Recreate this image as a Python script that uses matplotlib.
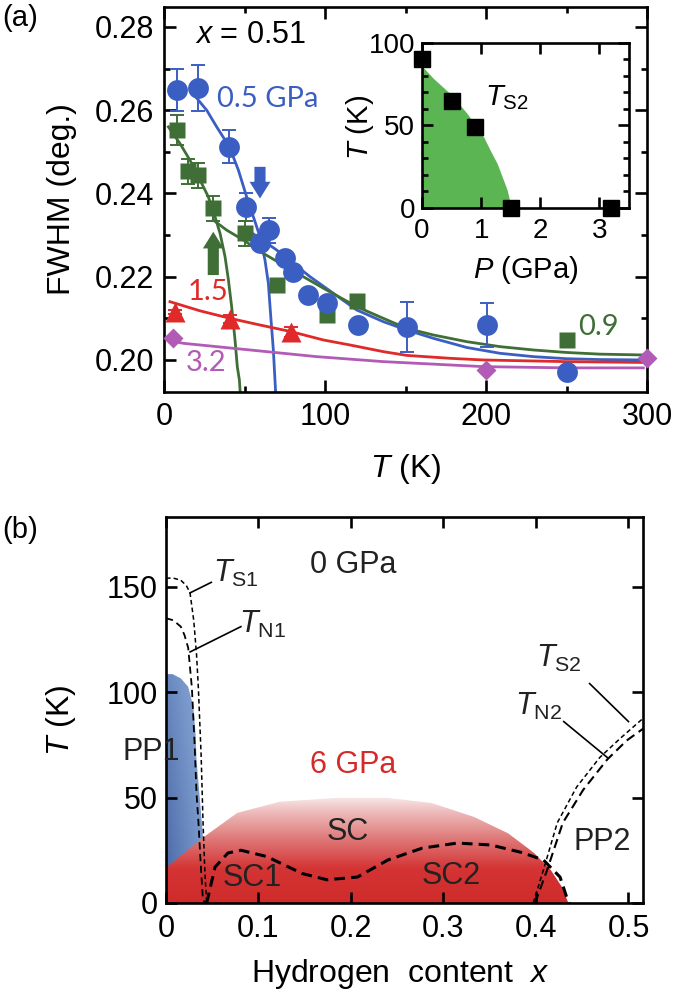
import matplotlib
matplotlib.use('Agg')
import matplotlib.pyplot as plt
import numpy as np
from matplotlib.patches import Polygon
from matplotlib.colors import LinearSegmentedColormap

plt.rcParams['font.family'] = ['Liberation Sans', 'DejaVu Sans']
plt.rcParams['mathtext.fontset'] = 'custom'
plt.rcParams['mathtext.rm'] = 'Liberation Sans'
plt.rcParams['mathtext.it'] = 'Liberation Sans:italic'
plt.rcParams['axes.linewidth'] = 1.9

# ---- panel (a): FWHM vs T, x = 0.51 ----
blue_T = [7.9, 21.3, 40.5, 50.7, 59.6, 65.2, 75.2, 80.3, 89.6, 101, 120.7, 150.7, 200.4, 250]
blue_W = [0.2649, 0.2653, 0.2512, 0.2367, 0.2280, 0.2312, 0.2245, 0.2212, 0.2156, 0.2136,
          0.2084, 0.2080, 0.2084, 0.1972]
blue_err = [0.005, 0.0056, 0.004, 0.0034, 0.0, 0.003, 0.001, 0.001, 0.001, 0.001, 0.001,
            0.006, 0.0052, 0.0]

green_T = [7.9, 15, 21.3, 30.6, 50.2, 70, 101, 119.6, 250]
green_W = [0.2552, 0.2453, 0.2444, 0.2364, 0.2304, 0.2180, 0.2108, 0.2141, 0.2048]
green_err = [0.0036, 0.003, 0.003, 0.003, 0.003, 0.0, 0.0, 0.0, 0.0]

red_T = [6.8, 41, 79]
red_W = [0.2115, 0.2098, 0.2068]
red_err = [0.0005, 0.001, 0.0012]

purple_T = [5.8, 200, 300]
purple_W = [0.2053, 0.1977, 0.2004]

# fitted curves
blue_low_T = [20.3, 26.5, 32.7, 40.6, 46.2, 51.3, 55.5, 59.6, 62.7, 64.8, 66.3, 67.9, 68.9, 69.3]
blue_low_W = [0.2629, 0.2600, 0.2560, 0.2512, 0.2456, 0.2392, 0.2344, 0.2296, 0.2240, 0.2184,
              0.2104, 0.2024, 0.1952, 0.1923]
blue_high_T = [50.3, 59.6, 70.0, 80.3, 90.7, 105.2, 119.7, 136.2, 150.7, 167.3, 188.0, 208.7,
               229.4, 250.1, 270.8, 297.7]
blue_high_W = [0.2316, 0.2292, 0.2264, 0.2232, 0.2200, 0.2160, 0.2120, 0.2092, 0.2072, 0.2052,
               0.2030, 0.2016, 0.2008, 0.2003, 0.2001, 0.2000]
green_low_T = [2.7, 9.9, 16.1, 22.4, 27.5, 31.7, 34.8, 37.9, 40.0, 42.0, 44.1, 45.5, 46.8, 47.3]
green_low_W = [0.2560, 0.2520, 0.2480, 0.2432, 0.2392, 0.2344, 0.2304, 0.2248, 0.2192, 0.2128,
               0.2048, 0.1984, 0.1952, 0.1923]
green_high_T = [30.6, 38.9, 49.3, 61.7, 74.1, 86.5, 101.0, 119.7, 136.2, 150.7, 167.3, 188.0,
                208.7, 229.4, 250.1, 270.8, 297.7]
green_high_W = [0.2336, 0.2312, 0.2288, 0.2256, 0.2228, 0.2200, 0.2168, 0.2128, 0.2100, 0.2076,
                0.2060, 0.2044, 0.2032, 0.2024, 0.2018, 0.2014, 0.2012]
red_fit_T = [3.7, 22.4, 41.0, 59.6, 79.0, 99.0, 115.5, 136.2, 150.7, 177.6, 198.3, 250.1, 297.7]
red_fit_W = [0.2140, 0.2118, 0.2100, 0.2084, 0.2068, 0.2048, 0.2036, 0.2020, 0.2011, 0.2004,
             0.2000, 0.1996, 0.1994]
purple_fit_T = [5.8, 12.0, 53.4, 94.8, 136.2, 198.3, 250.0, 297.7]
purple_fit_W = [0.2045, 0.2040, 0.2024, 0.2008, 0.1996, 0.1984, 0.1981, 0.1981]

# arrows marking the transitions
blue_arrow = (59.6, 0.2464, 0.2388)   # T, tail, tip
green_arrow = (30.6, 0.2204, 0.2308)

# inset: T_S2 vs pressure
ins_P = [0, 0.5, 0.9, 1.5, 3.2]
ins_T = [90, 65, 49, 0, 0]
ins_fill_P = [0, 0.19, 0.47, 0.76, 1.04, 1.15, 1.27, 1.44, 1.51]
ins_fill_T = [86, 78.6, 69.5, 57.4, 43.2, 35.2, 27, 10.9, 0]

# ---- panel (b): phase diagram ----
pp1_x = [0, 0, 0.007, 0.016, 0.024, 0.0296, 0.032, 0.033, 0.0386, 0.042, 0.043]
pp1_T = [0, 108.5, 108.5, 106.5, 102.5, 93, 80, 68, 39, 20, 0]
sc_x = [0, 0, 0.040, 0.077, 0.123, 0.184, 0.240, 0.287, 0.333, 0.370, 0.398, 0.416, 0.428, 0.435]
sc_T = [0, 16.6, 31, 42.7, 48, 49.8, 49.8, 47.4, 40.8, 33, 23.7, 15.6, 7.6, 0]
sc12_x = [0.044, 0.053, 0.067, 0.081, 0.109, 0.147, 0.174, 0.207, 0.240, 0.277, 0.315, 0.351,
          0.384, 0.408, 0.426, 0.433, 0.436]
sc12_T = [0, 17, 23.7, 25, 22, 14, 11, 12.3, 20.4, 26, 28.4, 27.5, 24, 20.4, 12.3, 3, 0]
ts1_x = [0, 0.008, 0.016, 0.022, 0.026, 0.030, 0.033, 0.035, 0.038, 0.040, 0.042, 0.044]
ts1_T = [154, 154, 153, 150.5, 147, 134, 118, 102, 70, 39, 15, 0]
tn1_x = [0, 0.008, 0.016, 0.020, 0.024, 0.028, 0.031, 0.033, 0.035, 0.038, 0.040, 0.043]
tn1_T = [135, 134, 131, 127, 121, 102, 75, 52, 39, 15, 1.4, 0]
ts2_x = [0.397, 0.408, 0.423, 0.444, 0.469, 0.491, 0.517]
ts2_T = [0, 15.6, 38, 55, 69, 78, 88]
tn2_x = [0.399, 0.412, 0.429, 0.451, 0.477, 0.498, 0.517]
tn2_T = [0, 15.6, 38, 53.6, 68, 77, 83]
leaders = {
    'TS1': ([0.026, 0.049], [147, 152]),
    'TN1': ([0.026, 0.081], [119, 131]),
    'TS2': ([0.458, 0.50], [104, 86]),
    'TN2': ([0.430, 0.477], [86, 69]),
}

BLUE = '#3b5ec2'
GREEN = '#3f6f36'
RED = '#e02a2a'
PURPLE = '#b25bb6'

fig = plt.figure(figsize=(6.75, 9.97), dpi=100)

# ================= (a) =================
ax = fig.add_axes([0.2430, 0.6068, 0.7156, 0.3862])
ax.plot(blue_low_T, blue_low_W, color=BLUE, lw=2, zorder=2)
ax.plot(blue_high_T, blue_high_W, color=BLUE, lw=2, zorder=2)
ax.plot(green_low_T, green_low_W, color=GREEN, lw=2, zorder=2)
ax.plot(green_high_T, green_high_W, color=GREEN, lw=2, zorder=2)
ax.plot(red_fit_T, red_fit_W, color=RED, lw=2, zorder=2)
ax.plot(purple_fit_T, purple_fit_W, color=PURPLE, lw=2, zorder=2)

ax.errorbar(blue_T, blue_W, yerr=blue_err, fmt='none', ecolor=BLUE, elinewidth=1.4,
            capsize=5, capthick=1.4, zorder=2.5)
ax.errorbar(green_T, green_W, yerr=green_err, fmt='none', ecolor=GREEN, elinewidth=1.4,
            capsize=5, capthick=1.4, zorder=2.5)
ax.errorbar(red_T, red_W, yerr=red_err, fmt='none', ecolor=RED, elinewidth=1.4,
            capsize=5, capthick=1.4, zorder=2.5)

ax.plot(green_T, green_W, 's', color=GREEN, ms=11, mec='none', zorder=3)
ax.plot(blue_T, blue_W, 'o', color=BLUE, ms=15, mec='none', zorder=3.1)
ax.plot(red_T, red_W, '^', color=RED, ms=15, mec='none', zorder=3, clip_on=False)
ax.plot(purple_T, purple_W, 'D', color=PURPLE, ms=10, mec='none', zorder=3.2, clip_on=False)

for (t, tail, tip), c in [(blue_arrow, BLUE), (green_arrow, GREEN)]:
    ax.annotate('', xy=(t, tip), xytext=(t, tail),
                arrowprops=dict(arrowstyle='simple,head_length=0.6,head_width=0.75,tail_width=0.4',
                                fc=c, ec='none', mutation_scale=20, shrinkA=0, shrinkB=0),
                zorder=4)

ax.text(54, 0.2781, '$x$ = 0.51', fontsize=22, ha='center', va='center')
ax.text(33, 0.2627, '0.5 GPa', fontsize=21, color=BLUE, ha='left', va='center', family='Lato')
ax.text(27.3, 0.2163, '1.5', fontsize=21, color=RED, ha='center', va='center', family='Lato')
ax.text(26, 0.1993, '3.2', fontsize=21, color=PURPLE, ha='center', va='center', family='Lato')
ax.text(270, 0.2079, '0.9', fontsize=21, color=GREEN, ha='center', va='center', family='Lato')

ax.set_xlim(0, 300)
ax.set_ylim(0.1923, 0.2848)
ax.set_xticks([0, 100, 200, 300])
ax.set_xticks([50, 150, 250], minor=True)
ax.set_yticks([0.20, 0.22, 0.24, 0.26, 0.28])
ax.set_yticks([0.21, 0.23, 0.25, 0.27], minor=True)
ax.set_yticklabels(['0.20', '0.22', '0.24', '0.26', '0.28'])
ax.tick_params(which='both', direction='in', top=True, right=True, width=1.9)
ax.tick_params(which='major', length=8.5, labelsize=22, pad=7)
ax.tick_params(which='minor', length=4)
ax.set_xlabel('$T$ (K)', fontsize=23)
ax.set_ylabel('FWHM (deg.)', fontsize=23)
ax.xaxis.set_label_coords(0.5, -0.155)
ax.yaxis.set_label_coords(-0.18, 0.5)
fig.text(20 / 675, 1 - 18 / 997, '(a)', fontsize=21, ha='center', va='center')

# inset
ins = fig.add_axes([0.6252, 0.7914, 0.3067, 0.1655])
ins.fill_between(ins_fill_P, ins_fill_T, 0, color='#5ab552', lw=0, zorder=1)
ins.plot(ins_P, ins_T, 's', color='black', ms=11, zorder=3, clip_on=False)
ins.text(1.07, 62, r'$T_{\mathrm{S2}}$', fontsize=21, ha='left', va='baseline')
ins.set_xlim(0, 3.5)
ins.set_ylim(0, 100)
ins.set_xticks([0, 1, 2, 3])
ins.set_yticks([0, 50, 100])
ins.set_yticks(np.arange(10, 100, 10), minor=True)
ins.tick_params(which='both', direction='in', top=True, right=True, width=1.9)
ins.tick_params(which='major', length=8, labelsize=20, pad=5)
ins.tick_params(which='minor', length=4)
ins.tick_params(axis='x', which='major', pad=7)
ins.set_xlabel('$P$ (GPa)', fontsize=21)
ins.set_ylabel('$T$ (K)', fontsize=21)
ins.xaxis.set_label_coords(0.5, -0.28)
ins.yaxis.set_label_coords(-0.22, 0.49)

# ================= (b) =================
bx = fig.add_axes([0.2459, 0.0943, 0.7067, 0.3872])


def gradient_patch(axis, px, py, field, extent, cmap, z):
    patch = Polygon(np.column_stack([px, py]), closed=True, fc='none', ec='none')
    axis.add_patch(patch)
    im = axis.imshow(field, extent=extent, origin='lower', aspect='auto', cmap=cmap,
                     vmin=0, vmax=1, zorder=z, interpolation='bilinear')
    im.set_clip_path(patch)


blue_cmap = LinearSegmentedColormap.from_list('pp1', ['#4a66a4', '#6f8fc4', '#93aedb'])
gx, gy = np.meshgrid(np.linspace(0, 1, 60), np.linspace(0, 1, 200))
gradient_patch(bx, pp1_x, pp1_T, 0.6 * gx + 0.4 * gy, [0, 0.044, 0, 110], blue_cmap, 1)

red_cmap = LinearSegmentedColormap.from_list(
    'sc', [(0, '#cf2b2b'), (0.32, '#d53434'), (0.6, '#df7a7a'), (0.85, '#eebcbc'), (1, '#f9eeee')])
rx, ry = np.meshgrid(np.linspace(0, 1, 10), np.linspace(0, 1, 300))
gradient_patch(bx, sc_x, sc_T, ry, [0, 0.44, 0, 51], red_cmap, 1.5)

bx.plot(sc12_x, sc12_T, color='black', lw=2.2, ls=(0, (3.5, 2)), zorder=3)
bx.plot(ts1_x, ts1_T, color='black', lw=1.1, ls=(0, (3, 2)), zorder=3)
bx.plot(tn1_x, tn1_T, color='black', lw=1.3, ls=(0, (4, 2.5)), zorder=3)
bx.plot(ts2_x, ts2_T, color='black', lw=1.1, ls=(0, (3, 2)), zorder=3)
bx.plot(tn2_x, tn2_T, color='black', lw=1.5, ls=(0, (4.5, 2.5)), zorder=3)
for lx, ly in leaders.values():
    bx.plot(lx, ly, color='black', lw=1.2, zorder=3)

tc = '#222222'
bx.text(0.0508, 152.3, r'$T_{\mathrm{S1}}$', fontsize=22, ha='left', va='baseline', color=tc)
bx.text(0.079, 128, r'$T_{\mathrm{N1}}$', fontsize=22, ha='left', va='baseline', color=tc)
bx.text(0.40, 112, r'$T_{\mathrm{S2}}$', fontsize=22, ha='left', va='baseline', color=tc)
bx.text(0.377, 89, r'$T_{\mathrm{N2}}$', fontsize=22, ha='left', va='baseline', color=tc)
bx.text(0.202, 160.4, '0 GPa', fontsize=22, ha='center', va='center', color=tc)
bx.text(0.202, 65.5, '6 GPa', fontsize=22, ha='center', va='center', color='#d42a2a')
bx.text(-0.016, 71.7, 'PP1', fontsize=22, ha='center', va='center', color=tc, zorder=5)
bx.text(0.196, 33.7, 'SC', fontsize=22, ha='center', va='center', color=tc, zorder=5)
bx.text(0.093, 11.9, 'SC1', fontsize=22, ha='center', va='center', color=tc, zorder=5)
bx.text(0.308, 12.8, 'SC2', fontsize=22, ha='center', va='center', color=tc, zorder=5)
bx.text(0.472, 29, 'PP2', fontsize=22, ha='center', va='center', color=tc, zorder=5)

bx.set_xlim(0, 0.5157)
bx.set_ylim(0, 183)
bx.set_xticks([0, 0.1, 0.2, 0.3, 0.4, 0.5])
bx.set_xticklabels(['0', '0.1', '0.2', '0.3', '0.4', '0.5'])
bx.set_yticks([0, 50, 100, 150])
bx.tick_params(which='both', direction='in', top=True, right=True, width=1.9, length=8,
               labelsize=22)
bx.tick_params(axis='y', pad=6)
bx.tick_params(axis='x', pad=8)
bx.set_xlabel('Hydrogen  content  $x$', fontsize=23)
bx.set_ylabel('$T$ (K)', fontsize=23)
bx.xaxis.set_label_coords(0.49, -0.14)
bx.yaxis.set_label_coords(-0.184, 0.474)
fig.text(20 / 675, 1 - 530 / 997, '(b)', fontsize=21, ha='center', va='center')

fig.savefig('out.png', dpi=100)
